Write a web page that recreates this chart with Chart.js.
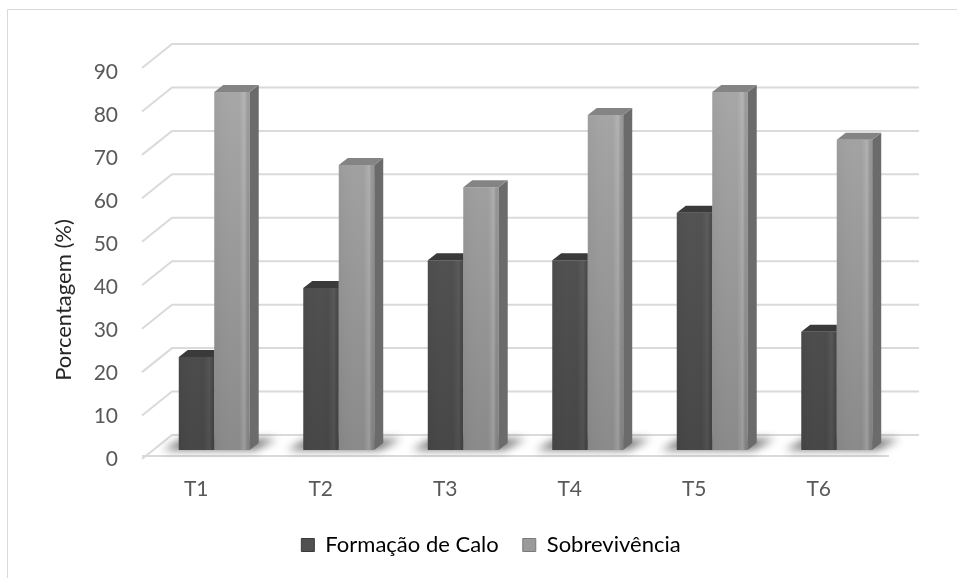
<!DOCTYPE html>
<html lang="pt">
<head>
<meta charset="UTF-8">
<title>Formação de Calo e Sobrevivência</title>
<script src="https://cdn.jsdelivr.net/npm/chart.js"></script>
<style>
  html, body { margin: 0; padding: 0; background: #fff; }
  #wrap { width: 957px; height: 578px; position: relative; }
</style>
</head>
<body>
<div id="wrap"><canvas id="chart"></canvas></div>
<script>
// dados
const categories = ['T1', 'T2', 'T3', 'T4', 'T5', 'T6'];
const formacaoCalo = [21.4, 37.3, 43.7, 43.7, 54.6, 27.2];
const sobrevivencia = [82.4, 65.6, 60.5, 77.1, 82.4, 71.4];
const yTicks = [0, 10, 20, 30, 40, 50, 60, 70, 80, 90];
const yMin = 0, yMax = 90;

const FONT = 'Lato, "Open Sans", sans-serif';
const DX = 9, DY = 7;          // profundidade das barras
const BACK = 15, FRONT = 6;    // deslocamento parede / borda da frente

function vGrad(chart, top, bottom) {
    const area = chart.chartArea;
    if (!area) return top;
    const g = chart.ctx.createLinearGradient(0, area.top, 0, area.bottom);
    g.addColorStop(0, top);
    g.addColorStop(1, bottom);
    return g;
}

const faces = {
    0: { top: '#3a3a3a', side: null, hi: 'rgba(255,255,255,0.06)' },
    1: { top: '#848484', side: '#6b6b6b', hi: 'rgba(255,255,255,0.16)' }
};

const bar3d = {
    id: 'bar3d',
    beforeDraw(chart) {
        const ctx = chart.ctx;
        ctx.save();
        ctx.fillStyle = '#fff';
        ctx.fillRect(0, 0, chart.width, chart.height);
        ctx.strokeStyle = '#d9d9d9';
        ctx.lineWidth = 1;
        ctx.beginPath();
        ctx.moveTo(7.5, chart.height);
        ctx.lineTo(7.5, 9.5);
        ctx.lineTo(chart.width, 9.5);
        ctx.stroke();
        ctx.restore();
    },
    beforeDatasetsDraw(chart) {
        const ctx = chart.ctx, y = chart.scales.y, a = chart.chartArea;
        const backL = a.left + 20, backR = a.right + 20, frontL = a.left - 10;
        ctx.save();
        ctx.strokeStyle = '#dadada';
        ctx.lineWidth = 2;
        yTicks.forEach(v => {
            const yb = y.getPixelForValue(v) - BACK;
            ctx.beginPath();
            ctx.moveTo(frontL, yb + 24);
            ctx.lineTo(backL, yb);
            ctx.lineTo(backR, yb);
            ctx.stroke();
        });
        // borda da frente do piso
        const y0 = y.getPixelForValue(0);
        ctx.beginPath();
        ctx.moveTo(frontL, y0 + FRONT);
        ctx.lineTo(a.right - 10, y0 + FRONT);
        ctx.stroke();

        // sombras no piso
        const m0 = chart.getDatasetMeta(0), m1 = chart.getDatasetMeta(1);
        ctx.filter = 'blur(4px)';
        ctx.fillStyle = 'rgba(0,0,0,0.55)';
        m0.data.forEach((b, i) => {
            const l = b.x - b.width / 2;
            const r = m1.data[i].x + m1.data[i].width / 2 + DX;
            ctx.beginPath();
            ctx.moveTo(l - 16, y0);
            ctx.lineTo(r - 4, y0);
            ctx.lineTo(r + 18, y0 - 11);
            ctx.lineTo(l + 4, y0 - 11);
            ctx.closePath();
            ctx.fill();
        });
        ctx.restore();
    },
    afterDatasetDraw(chart, args) {
        const ctx = chart.ctx, f = faces[args.index];
        ctx.save();
        args.meta.data.forEach(b => {
            const l = b.x - b.width / 2, r = b.x + b.width / 2;
            const t = b.y, base = b.base;
            // brilho vertical na face da frente
            const hg = ctx.createLinearGradient(l, 0, r, 0);
            hg.addColorStop(0, 'rgba(0,0,0,0.04)');
            hg.addColorStop(0.7, 'rgba(255,255,255,0)');
            hg.addColorStop(0.86, f.hi);
            hg.addColorStop(0.96, 'rgba(0,0,0,0.06)');
            hg.addColorStop(1, 'rgba(0,0,0,0.1)');
            ctx.fillStyle = hg;
            ctx.fillRect(l, t, r - l, base - t);
            // lateral (a da série escura fica atrás da barra clara)
            const edge = f.side ? r + DX : r;
            if (f.side) {
                ctx.fillStyle = f.side;
                ctx.beginPath();
                ctx.moveTo(r, t);
                ctx.lineTo(r + DX, t - DY);
                ctx.lineTo(r + DX, base - DY);
                ctx.lineTo(r, base);
                ctx.closePath();
                ctx.fill();
            }
            // topo
            ctx.fillStyle = f.top;
            ctx.beginPath();
            ctx.moveTo(l, t);
            ctx.lineTo(l + DX, t - DY);
            ctx.lineTo(edge, t - DY);
            ctx.lineTo(r, t);
            ctx.closePath();
            ctx.fill();
        });
        ctx.restore();
    },
    afterDraw(chart) {
        const ctx = chart.ctx;
        ctx.save();
        ctx.translate(64, 300);
        ctx.rotate(-Math.PI / 2);
        ctx.font = '22px ' + FONT;
        ctx.fillStyle = '#262626';
        ctx.textAlign = 'center';
        ctx.textBaseline = 'middle';
        ctx.fillText('Porcentagem (%)', 0, 0);
        ctx.restore();
    }
};

new Chart(document.getElementById('chart'), {
    type: 'bar',
    data: {
        labels: categories,
        datasets: [{
            label: 'Formação de Calo',
            data: formacaoCalo,
            backgroundColor: c => vGrad(c.chart, '#5a5a5a', '#464646'),
            borderWidth: 0,
            barPercentage: 1,
            categoryPercentage: 0.57
        }, {
            label: 'Sobrevivência',
            data: sobrevivencia,
            backgroundColor: c => vGrad(c.chart, '#a9a9a9', '#8a8a8a'),
            borderWidth: 0,
            barPercentage: 1,
            categoryPercentage: 0.57
        }]
    },
    options: {
        responsive: true,
        maintainAspectRatio: false,
        animation: false,
        layout: { padding: { left: 83, right: 58, top: 59, bottom: 12 } },
        plugins: {
            tooltip: { enabled: false },
            legend: {
                position: 'bottom',
                labels: {
                    boxWidth: 13,
                    boxHeight: 13,
                    padding: 24,
                    color: '#262626',
                    font: { family: FONT, size: 22 },
                    generateLabels: chart => chart.data.datasets.map((ds, i) => ({
                        text: ds.label,
                        fillStyle: i === 0 ? '#505050' : '#9a9a9a',
                        strokeStyle: i === 0 ? '#3a3a3a' : '#7a7a7a',
                        lineWidth: 1,
                        datasetIndex: i
                    }))
                }
            }
        },
        scales: {
            x: {
                grid: { display: false },
                border: { display: false },
                ticks: { color: '#595959', font: { family: FONT, size: 21 }, padding: 19, labelOffset: -18 },
                afterFit: s => { s.height = 60; }
            },
            y: {
                display: false,
                min: yMin,
                max: yMax
            },
            // eixo só para os rótulos, na borda da frente (escala um pouco menor)
            yFront: {
                position: 'left',
                min: 0,
                max: 90.93,
                grid: { display: false, drawTicks: false },
                border: { display: false },
                afterBuildTicks: s => { s.ticks = yTicks.map(v => ({ value: v })); },
                ticks: { color: '#595959', font: { family: FONT, size: 21 }, padding: 34, labelOffset: 9 },
                afterFit: s => { s.width = 69; }
            }
        }
    },
    plugins: [bar3d]
});
</script>
</body>
</html>
